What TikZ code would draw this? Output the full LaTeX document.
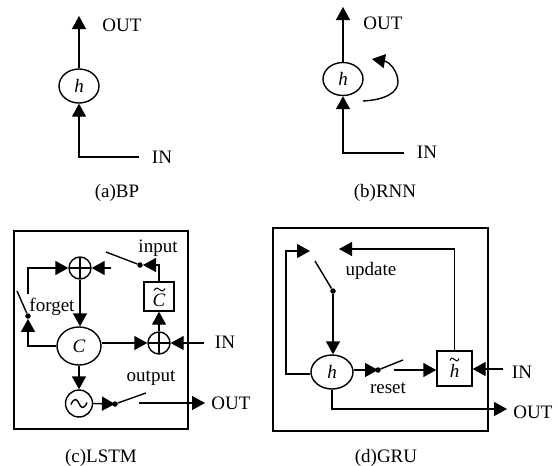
\documentclass[tikz,border=0pt]{standalone}
\usepackage{fontspec}
\setmainfont{Liberation Serif}
\usetikzlibrary{arrows.meta,shapes.geometric,calc}
\tikzset{
  x=1pt,y=-1pt,
  every node/.style={font=\fontsize{19}{20}\selectfont,inner sep=0pt},
  wire/.style={line width=1.4pt},
  arr/.style={wire,-{Triangle[length=13pt,width=14pt]}},
  cell/.style n args={2}{draw,line width=1.4pt,ellipse,minimum width=#1,minimum height=#2},
  sq/.style n args={2}{draw,line width=1.4pt,rectangle,minimum width=#1,minimum height=#2},
  plusn/.style={draw,line width=1.4pt,circle,minimum size=22pt,
    path picture={\draw[line width=1.4pt] (path picture bounding box.north)--(path picture bounding box.south)
      (path picture bounding box.west)--(path picture bounding box.east);}},
  waven/.style={draw,line width=1.4pt,circle,minimum size=27pt,
    path picture={\draw[line width=1.4pt,shift={(path picture bounding box.center)}] (-8,1)
      .. controls (-5,-6) and (-2,-5) .. (0,0)
      .. controls (2,5) and (5,6) .. (8,-1);}},
  dotn/.style={circle,fill=black,minimum size=5.5pt},
  tildemark/.style={line width=1pt},
}
\newcommand{\hsym}{{\itshape h}}
\begin{document}
\begin{tikzpicture}
\useasboundingbox (0,0) rectangle (558,466);
% (a) BP
\node[cell={40pt}{34pt}] (hA) at (79,86) {\hsym};
\coordinate (outA) at (79,16);
\coordinate (inA) at (139,157);
\draw[arr] (hA.north) -- (outA);
\draw[arr] (inA) -| (hA.south);
\node (outAt) at (122,25) {OUT};
\node (inAt) at (162,157) {IN};
\node (capA) at (117,193) {(a)BP};
% (b) RNN
\node[cell={40pt}{33pt}] (hB) at (343,79) {\hsym};
\coordinate (outB) at (343,7);
\coordinate (inB) at (404,153);
\coordinate (loopS) at (363,101);
\coordinate (loopM) at (398,82);
\coordinate (loopE) at (372,59);
\draw[arr] (hB.north) -- (outB);
\draw[arr] (inB) -| (hB.south);
\draw[wire] (loopS) .. controls (384,100) and (398,93) .. (loopM);
\draw[arr] (loopM) .. controls (398,72) and (390,62) .. (loopE);
\node (outBt) at (383,23) {OUT};
\node (inBt) at (427,152) {IN};
\node (capB) at (385,193) {(b)RNN};
% (c) LSTM
\node[sq={174pt}{198pt}] (boxC) at (101,330) {};
\node[plusn] (plusT) at (80,268) {};
\node[plusn] (plusB) at (159,343) {};
\node[sq={30pt}{29pt}] (ct) at (159,296.5) {};
\node (ctText) at (159,300) {\itshape C};
\coordinate (ctTilde) at (159.5,289.5);
\draw[tildemark] ($(ctTilde)+(-5.5,1)$) .. controls +(2,-3) and +(-3,-2) .. ($(ctTilde)+(0,0)$) .. controls +(3,2) and +(-2,3) .. ($(ctTilde)+(5.5,-1)$);
\node[cell={44pt}{38pt}] (cc) at (79,346) {{\itshape C}};
\node[waven] (wv) at (79,403.5) {};
\node[dotn] (dInput) at (140,265) {};
\node[dotn] (dForget) at (28,316) {};
\node[dotn] (dOut) at (115,404) {};
\coordinate (swInput) at (106,252);
\coordinate (swInArr) at (111,268);
\coordinate (swForget) at (17,291);
\coordinate (fgTop) at (28,294);
\coordinate (inputTip) at (143,265);
\coordinate (swOutput) at (146,393);
\coordinate (outS) at (139,403);
\coordinate (outE) at (205,403);
\coordinate (inE) at (204,343);
\draw[arr] (fgTop) |- (plusT.west);
\draw[arr] (swInArr) -- (plusT.east);
\draw[wire] (swInput) -- (dInput);
\draw[arr] (ct.north) |- (inputTip);
\draw[arr] (plusT.south) -- (cc.north -| plusT);
\draw[arr] (cc.west) -| (dForget.south);
\draw[wire] (swForget) -- (dForget);
\draw[arr] (plusB.north) -- (ct.south);
\draw[arr] (inE) -- (plusB.east);
\draw[arr] (cc.east |- plusB) -- (plusB.west);
\draw[arr] (cc.south) -- (wv.north);
\draw[arr] (wv.east) -- (dOut.center);
\draw[wire] (dOut) -- (swOutput);
\draw[arr] (outS) -- (outE);
\node (inputt) at (158,248) {input};
\node (forgett) at (52,307) {forget};
\node (outputt) at (151,378) {output};
\node (inCt) at (225,342) {IN};
\node (outCt) at (231,403) {OUT};
\node (capC) at (101,458) {(c)LSTM};
% (d) GRU
\node[sq={215pt}{203pt}] (boxD) at (380.5,329.5) {};
\node[cell={42pt}{34pt}] (hD) at (332,372) {\hsym};
\node[sq={35pt}{35pt}] (ht) at (454.5,368.5) {};
\node (htText) at (454.5,371) {\itshape h};
\coordinate (htTilde) at (454.5,359.5);
\draw[tildemark] ($(htTilde)+(-4.5,1)$) .. controls +(1.5,-3) and +(-3,-2) .. ($(htTilde)+(0,0)$) .. controls +(3,2) and +(-1.5,3) .. ($(htTilde)+(4.5,-1)$);
\node[dotn] (dUpd) at (333,291) {};
\node[dotn] (dRes) at (378,370) {};
\coordinate (updIn) at (310,251);
\coordinate (updOut) at (339,249);
\coordinate (swUpd) at (315,261);
\coordinate (swRes) at (403,360);
\coordinate (resS) at (394,370);
\coordinate (inDE) at (503,369);
\coordinate (outDE) at (507,409);
\coordinate (leftTurn) at (286,374);
\draw[arr] (hD.west |- leftTurn) -- (leftTurn) |- (updIn);
\draw[arr] (ht.north) |- (updOut);
\draw[wire] (swUpd) -- (dUpd);
\draw[arr] (dUpd) -- (dUpd |- hD.north);
\draw[arr] (hD.east |- dRes) -- (dRes.center);
\draw[wire] (dRes) -- (swRes);
\draw[arr] (resS) -- (resS -| ht.west);
\draw[arr] (inDE) -- (inDE -| ht.east);
\draw[arr] (hD.south) |- (outDE);
\node (updt) at (371,271) {update};
\node (rest) at (388,388) {reset};
\node (inDt) at (522,372) {IN};
\node (outDt) at (533,412) {OUT};
\node (capD) at (386,458) {(d)GRU};
\end{tikzpicture}
\end{document}
